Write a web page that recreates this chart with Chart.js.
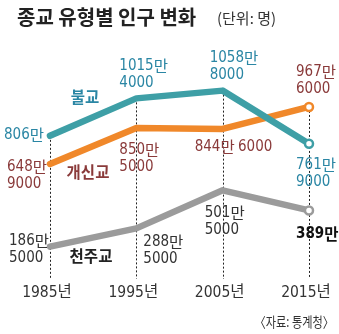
<!DOCTYPE html>
<html><head><meta charset="utf-8">
<script src="https://cdn.jsdelivr.net/npm/chart.js@4"></script>
<style>
html,body{margin:0;padding:0;background:#fff;}
#wrap{width:339px;height:334px;position:relative;}
</style>
</head><body>
<div id="wrap"><canvas id="c" width="339" height="334"></canvas></div>
<script>
// Census years and population (persons) per religion
const years = [1985, 1995, 2005, 2015];
const yearLabels = ['1985년', '1995년', '2005년', '2015년'];
const buddhism = [8060000, 10154000, 10588000, 7619000];
const protestant = [6489000, 8505000, 8446000, 9676000];
const catholic = [1865000, 2885000, 5015000, 3890000];
const seriesNames = ['불교', '개신교', '천주교'];
const titleText = '종교 유형별 인구 변화';
const unitText = '(단위: 명)';
const sourceText = '〈자료: 통계청〉';

// Styling
const lineColors = ['#3e9fa6', '#f0882a', '#9b9b9b'];
const textColors = ['#2a86a4', '#8a3a3a', '#333333'];
const numFont = '"Liberation Sans Narrow", "DejaVu Sans Condensed", "Noto Sans CJK KR", sans-serif';
const cjkFont = '"Noto Sans CJK KR", sans-serif';

// Value label placement relative to each point: [dx, dy, align, inline, bold]
const labelPlacement = [
  [[-6, -1, 'right'], [-17, -32, 'left'], [-13, -33, 'left'], [-13, 21, 'left']],
  [[-43, 3, 'left'], [-17, 22, 'left'], [-28, 18, 'left', true], [-13, -35, 'left']],
  [[-41, -6, 'left'], [7, 14, 'left'], [-18, 23, 'left'], [-13, 24, 'left', false, true]]
];
// Series name positions (pixels)
const namePlacement = [[85, 97], [88, 172], [91, 256]];

// Split a value into runs: digits in the narrow face, the unit 만 in the CJK face
function formatMan(v, inline) {
  const man = Math.floor(v / 10000);
  const rest = v % 10000;
  const first = [{ t: String(man), cjk: false }, { t: '만', cjk: true }];
  if (!rest) return [first];
  if (inline) return [first.concat([{ t: ' ' + rest, cjk: false }])];
  return [first, [{ t: String(rest), cjk: false }]];
}

function drawRuns(ctx, runs, x, y, align, bold) {
  const w = bold ? 'bold ' : '';
  const fonts = runs.map(r => r.cjk ? w + '15.5px ' + cjkFont : w + '15px ' + numFont);
  let total = 0;
  const widths = runs.map((r, i) => { ctx.font = fonts[i]; const m = ctx.measureText(r.t).width; total += m; return m; });
  let cx = align === 'right' ? x - total : (align === 'center' ? x - total / 2 : x);
  ctx.textAlign = 'left';
  runs.forEach((r, i) => {
    ctx.font = fonts[i];
    ctx.fillText(r.t, cx, y + (r.cjk ? 0 : 0));
    cx += widths[i] - (r.cjk ? 1 : 0);
  });
}

function toPoints(arr) { return arr.map((v, i) => ({ x: years[i], y: v })); }

const decorPlugin = {
  id: 'decor',
  beforeDatasetsDraw(chart) {
    const ctx = chart.ctx;
    const xs = chart.scales.x, ys = chart.scales.y;
    const bottom = chart.chartArea.bottom - 1;
    ctx.save();
    ctx.strokeStyle = '#222';
    ctx.lineWidth = 1;
    ctx.setLineDash([2, 2]);
    years.forEach((yr, i) => {
      const top = Math.max(buddhism[i], protestant[i], catholic[i]);
      const x = Math.round(xs.getPixelForValue(yr)) + 0.5;
      ctx.beginPath();
      ctx.moveTo(x, ys.getPixelForValue(top) + 4);
      ctx.lineTo(x, bottom);
      ctx.stroke();
    });
    ctx.restore();
  },
  afterDatasetsDraw(chart) {
    const ctx = chart.ctx;
    ctx.save();
    ctx.textBaseline = 'middle';
    // value labels
    chart.data.datasets.forEach((ds, di) => {
      const meta = chart.getDatasetMeta(di);
      meta.data.forEach((pt, pi) => {
        const [dx, dy, align, inline, bold] = labelPlacement[di][pi];
        const lines = formatMan(ds.data[pi].y, inline);
        ctx.fillStyle = bold ? '#111' : textColors[di];
        lines.forEach((runs, k) => drawRuns(ctx, runs, pt.x + dx, pt.y + dy + k * 17, align, bold));
      });
    });
    // series names
    seriesNames.forEach((n, i) => {
      ctx.font = 'bold 15.5px ' + cjkFont;
      ctx.fillStyle = i === 2 ? '#222' : textColors[i];
      ctx.textAlign = 'center';
      ctx.fillText(n, namePlacement[i][0], namePlacement[i][1]);
    });
    // year ticks
    const xs = chart.scales.x;
    ctx.font = '15.5px ' + numFont;
    ctx.fillStyle = '#333';
    ctx.textAlign = 'center';
    yearLabels.forEach((t, i) => ctx.fillText(t, xs.getPixelForValue(years[i]) - 3, 293));
    // title
    ctx.textAlign = 'left';
    ctx.fillStyle = '#222';
    ctx.font = 'bold 20px ' + cjkFont;
    ctx.fillText(titleText, 17, 17);
    ctx.font = '15px ' + cjkFont;
    ctx.fillStyle = '#333';
    ctx.fillText(unitText, 217, 18);
    // source
    ctx.font = '14px ' + cjkFont;
    ctx.fillStyle = '#333';
    ctx.translate(334, 322);
    ctx.scale(0.8, 1);
    ctx.textAlign = 'right';
    ctx.fillText(sourceText, 0, 0);
    ctx.restore();
  }
};

const endPoint = (n) => years.map((_, i) => i === n - 1 ? 4 : 0);

new Chart(document.getElementById('c'), {
  type: 'line',
  data: {
    datasets: [buddhism, protestant, catholic].map((arr, i) => ({
      label: seriesNames[i],
      data: toPoints(arr),
      borderColor: lineColors[i],
      borderWidth: 6.5,
      borderCapStyle: 'round',
      borderJoinStyle: 'round',
      tension: 0,
      pointRadius: endPoint(years.length),
      pointHoverRadius: 0,
      pointBackgroundColor: '#fff',
      pointBorderColor: lineColors[i],
      pointBorderWidth: 2.5,
      clip: false
    }))
  },
  options: {
    responsive: false,
    animation: false,
    devicePixelRatio: 1,
    events: [],
    layout: { padding: { left: 50, right: 30, top: 60, bottom: 54 } },
    scales: {
      x: { type: 'linear', min: 1985, max: 2015, display: false },
      y: { min: 0, max: 12300000, display: false }
    },
    plugins: { legend: { display: false }, tooltip: { enabled: false } }
  },
  plugins: [decorPlugin]
});
</script>
</body></html>
